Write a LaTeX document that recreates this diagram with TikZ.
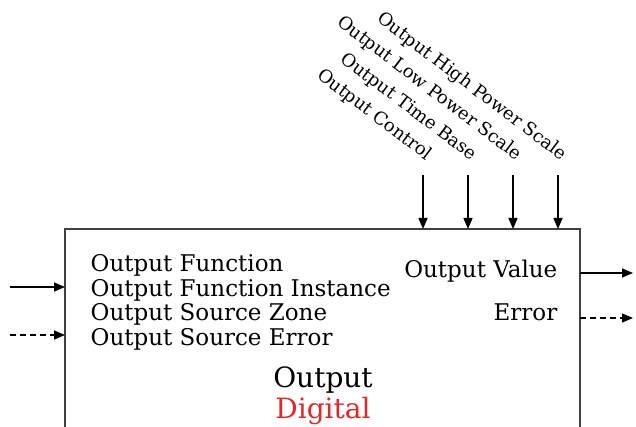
\documentclass[tikz,border=0pt]{standalone}
\usepackage{fontspec}
\setmainfont{DejaVu Serif}
\usetikzlibrary{arrows.meta}

\begin{document}
\begin{tikzpicture}[x=1pt, y=-1pt, line width=1.4pt,
  >={Triangle[length=11pt,width=9pt]},
  lbl/.style={font=\fontsize{23}{26}\selectfont, inner sep=0pt},
  toplbl/.style={font=\fontsize{18}{21}\selectfont, rotate=-37, anchor=base east, inner sep=0pt},
  dsh/.style={dash pattern=on 6pt off 4pt}]
  \useasboundingbox (0,0) rectangle (636,427);

  % block outline, open at the bottom
  \coordinate (BL) at (65,427);
  \coordinate (TL) at (65,229);
  \coordinate (TR) at (580,229);
  \coordinate (BR) at (580,427);
  \draw[black!75] (BL) -- (TL) -- (TR) -- (BR);

  \node[lbl, anchor=base west] (fn)   at (90,272) {Output Function};
  \node[lbl, anchor=base west] (fni)  at (90,296) {Output Function Instance};
  \node[lbl, anchor=base west] (srcz) at (90,320) {Output Source Zone};
  \node[lbl, anchor=base west] (srce) at (90,345) {Output Source Error};
  \node[lbl, anchor=base east] (val)  at (558,277) {Output Value};
  \node[lbl, anchor=base east] (err)  at (558,320) {Error};
  \node[font=\fontsize{28}{32}\selectfont, inner sep=0pt, anchor=base] (title) at (323,387) {Output};
  \node[font=\fontsize{28}{32}\selectfont, inner sep=0pt, anchor=base, text={rgb,255:red,224;green,40;blue,40}] (kind) at (323,418) {Digital};

  % inputs on the left
  \coordinate (in1) at (10,287);
  \coordinate (in2) at (10,335);
  \draw[->] (in1) -- (in1 -| TL);
  \draw[->, dsh] (in2) -- (in2 -| TL);

  % outputs on the right
  \coordinate (out1) at (633,273);
  \coordinate (out2) at (633,318);
  \draw[->] (out1 -| TR) -- (out1);
  \draw[->, dsh] (out2 -| TR) -- (out2);

  % inputs from the top
  \foreach \x/\txt [count=\i] in {423/Output Control, 468/Output Time Base,
      513/Output Low Power Scale, 558/Output High Power Scale} {
    \node[toplbl] (top\i) at (\x+4,161) {\txt};
    \coordinate (arr\i) at (\x,175);
    \draw[->] (arr\i) -- (arr\i |- TL);
  }
\end{tikzpicture}
\end{document}
